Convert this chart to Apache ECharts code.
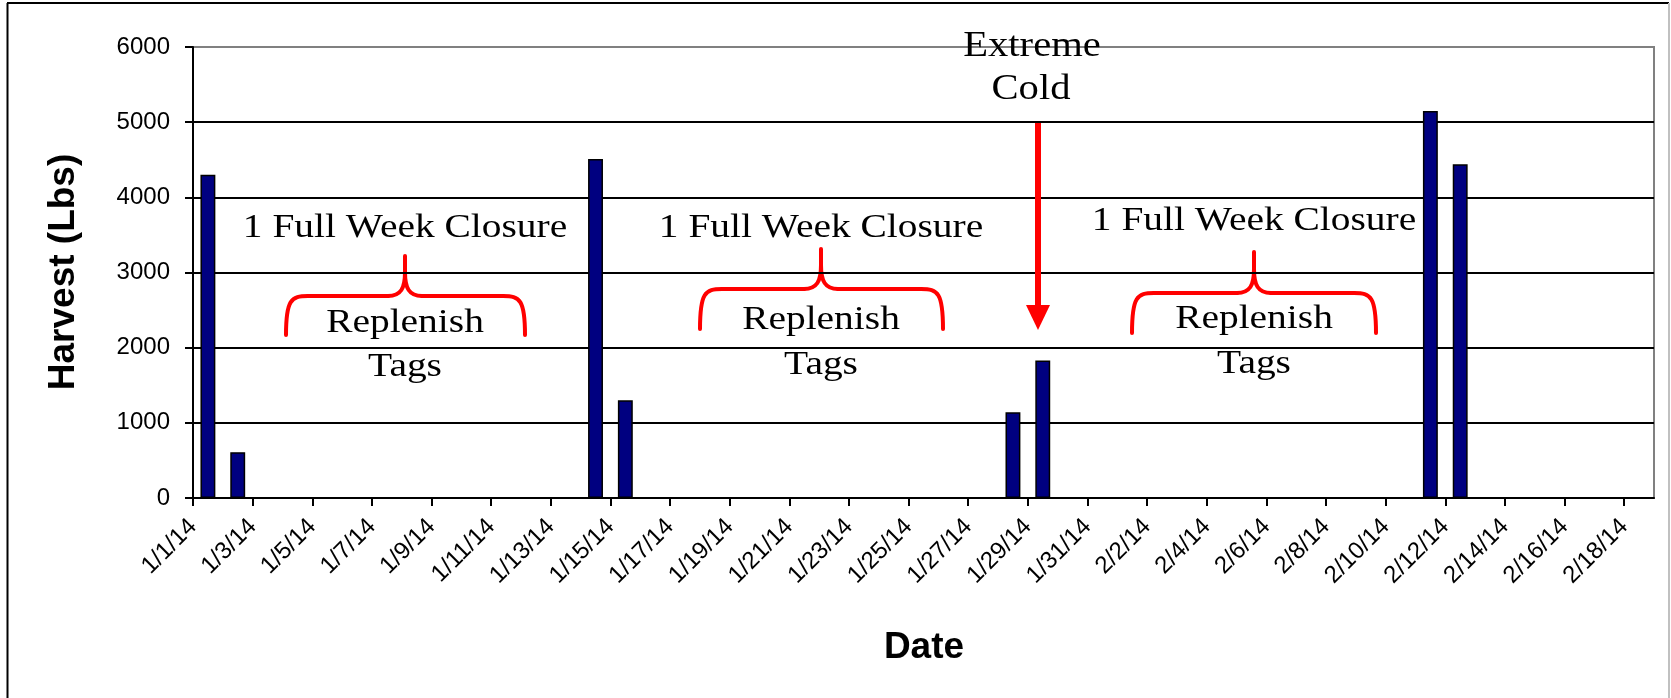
<!DOCTYPE html>
<html>
<head>
<meta charset="utf-8">
<script src="https://cdn.jsdelivr.net/npm/echarts@6/dist/echarts.min.js"></script>
<style>
    html, body { margin: 0; padding: 0; background: #fff; }
    #harvest { width: 1671px; height: 698px; }
</style>
</head>
<body>
<div id="harvest"></div>
<script>
    // dates on the category axis (one per day)
    var days = ['1/1/14', '1/2/14', '1/3/14', '1/4/14', '1/5/14', '1/6/14', '1/7/14', '1/8/14', '1/9/14', '1/10/14',
        '1/11/14', '1/12/14', '1/13/14', '1/14/14', '1/15/14', '1/16/14', '1/17/14', '1/18/14', '1/19/14', '1/20/14',
        '1/21/14', '1/22/14', '1/23/14', '1/24/14', '1/25/14', '1/26/14', '1/27/14', '1/28/14', '1/29/14', '1/30/14',
        '1/31/14', '2/1/14', '2/2/14', '2/3/14', '2/4/14', '2/5/14', '2/6/14', '2/7/14', '2/8/14', '2/9/14',
        '2/10/14', '2/11/14', '2/12/14', '2/13/14', '2/14/14', '2/15/14', '2/16/14', '2/17/14', '2/18/14'];
    // label axis has one more entry so labels sit on the day boundaries
    var dayEdges = days.concat(['2/19/14']);
    // harvest in lbs, null = no harvest that day
    var harvest = [4300, 610, null, null, null, null, null, null, null, null,
        null, null, null, 4510, 1300, null, null, null, null, null,
        null, null, null, null, null, null, null, 1140, 1830, null,
        null, null, null, null, null, null, null, null, null, null,
        null, 5150, 4440, null, null, null, null, null, null];
    var yTicks = [0, 1000, 2000, 3000, 4000, 5000, 6000];

    var sans = 'Liberation Sans, Arial, sans-serif';
    var serif = 'Liberation Serif, Times New Roman, serif';
    var red = '#ff0000';

    // curly brace drawn with lines + curves
    function brace(cx, x0, x1, yb, yh, yt) {
        var s = {stroke: red, lineWidth: 4, fill: null, lineCap: 'round'};
        return [
            {type: 'bezierCurve', shape: {x1: x0, y1: yb, cpx1: x0, cpy1: yh + 4, cpx2: x0 + 5, cpy2: yh, x2: x0 + 22, y2: yh}, style: s},
            {type: 'line', shape: {x1: x0 + 22, y1: yh, x2: cx - 17, y2: yh}, style: s},
            {type: 'bezierCurve', shape: {x1: cx - 17, y1: yh, cpx1: cx - 4, cpy1: yh, cpx2: cx, cpy2: yh - 8, x2: cx, y2: yh - 24}, style: s},
            {type: 'line', shape: {x1: cx, y1: yh - 24, x2: cx, y2: yt}, style: s},
            {type: 'bezierCurve', shape: {x1: x1, y1: yb, cpx1: x1, cpy1: yh + 4, cpx2: x1 - 5, cpy2: yh, x2: x1 - 22, y2: yh}, style: s},
            {type: 'line', shape: {x1: x1 - 22, y1: yh, x2: cx + 17, y2: yh}, style: s},
            {type: 'bezierCurve', shape: {x1: cx + 17, y1: yh, cpx1: cx + 4, cpy1: yh, cpx2: cx, cpy2: yh - 8, x2: cx, y2: yh - 24}, style: s}
        ];
    }

    function serifText(txt, x, y, size) {
        return {
            type: 'text', x: x, y: y, scaleX: 1.16, z: 100,
            style: {text: txt, font: size + 'px ' + serif, fill: '#000', textAlign: 'center', textVerticalAlign: 'middle'}
        };
    }

    function group(cx, x0, x1, yb, yh, yt, yTop, yRep, yTags) {
        return brace(cx, x0, x1, yb, yh, yt).concat([
            serifText('1 Full Week Closure', cx, yTop, 34),
            serifText('Replenish', cx, yRep, 34),
            serifText('Tags', cx, yTags, 34)
        ]);
    }

    var graphics = [
        // outer frame
        {type: 'line', shape: {x1: 7, y1: 3, x2: 1669, y2: 3}, style: {stroke: '#000', lineWidth: 2}},
        {type: 'line', shape: {x1: 7.5, y1: 3, x2: 7.5, y2: 698}, style: {stroke: '#000', lineWidth: 2}},
        {type: 'line', shape: {x1: 1669, y1: 3, x2: 1669, y2: 698}, style: {stroke: '#c0c0c0', lineWidth: 2}},
        // axis titles
        {type: 'text', x: 64, y: 272, rotation: Math.PI / 2,
            style: {text: 'Harvest (Lbs)', font: 'bold 37px ' + sans, fill: '#000', textAlign: 'center', textVerticalAlign: 'middle'}},
        {type: 'text', x: 924, y: 648,
            style: {text: 'Date', font: 'bold 37px ' + sans, fill: '#000', textAlign: 'center', textVerticalAlign: 'middle'}},
        // extreme cold arrow
        serifText('Extreme', 1032, 47, 35),
        serifText('Cold', 1031, 90, 35),
        {type: 'line', z: 100, shape: {x1: 1038, y1: 123, x2: 1038, y2: 310}, style: {stroke: red, lineWidth: 6}},
        {type: 'polygon', z: 100, shape: {points: [[1026, 305], [1050, 305], [1038, 330]]}, style: {fill: red}}
    ]
        .concat(group(405, 286, 525, 335, 296, 256, 228, 323, 367))
        .concat(group(821, 700, 943, 329, 289, 249, 228, 320, 365))
        .concat(group(1254, 1132, 1376, 333, 293, 252, 221, 319, 364));

    var chart = echarts.init(document.getElementById('harvest'));
    chart.setOption({
        animation: false,
        backgroundColor: '#fff',
        grid: {
            left: 193, right: 17, top: 47, bottom: 200,
            show: true, borderColor: '#808080', borderWidth: 2, backgroundColor: '#fff'
        },
        xAxis: [
            {
                type: 'category',
                data: days,
                boundaryGap: true,
                axisLine: {lineStyle: {color: '#000', width: 2}},
                axisTick: {show: false},
                axisLabel: {show: false}
            },
            {
                type: 'category',
                data: dayEdges,
                position: 'bottom',
                boundaryGap: false,
                axisLine: {show: false},
                axisTick: {show: true, interval: 1, length: 8, lineStyle: {color: '#000', width: 2}},
                axisLabel: {interval: 1, rotate: 45, margin: 25, fontSize: 24, fontFamily: sans, color: '#000'},
                splitLine: {show: false}
            }
        ],
        yAxis: [
            {
                type: 'value',
                min: yTicks[0],
                max: yTicks[yTicks.length - 1],
                interval: 1000,
                axisLine: {show: true, lineStyle: {color: '#000', width: 2}},
                axisTick: {show: true, length: 8, lineStyle: {color: '#000', width: 2}},
                axisLabel: {
                    margin: 23, fontSize: 24, fontFamily: sans, color: '#000',
                    formatter: function (v) { return String(v); }
                },
                splitLine: {show: true, showMaxLine: false, lineStyle: {color: '#000', width: 2}}
            }
        ],
        series: [
            {
                type: 'bar',
                data: harvest,
                barWidth: '50%',
                itemStyle: {color: '#000080', borderColor: '#000', borderWidth: 1.5}
            }
        ],
        graphic: graphics
    });
</script>
</body>
</html>
